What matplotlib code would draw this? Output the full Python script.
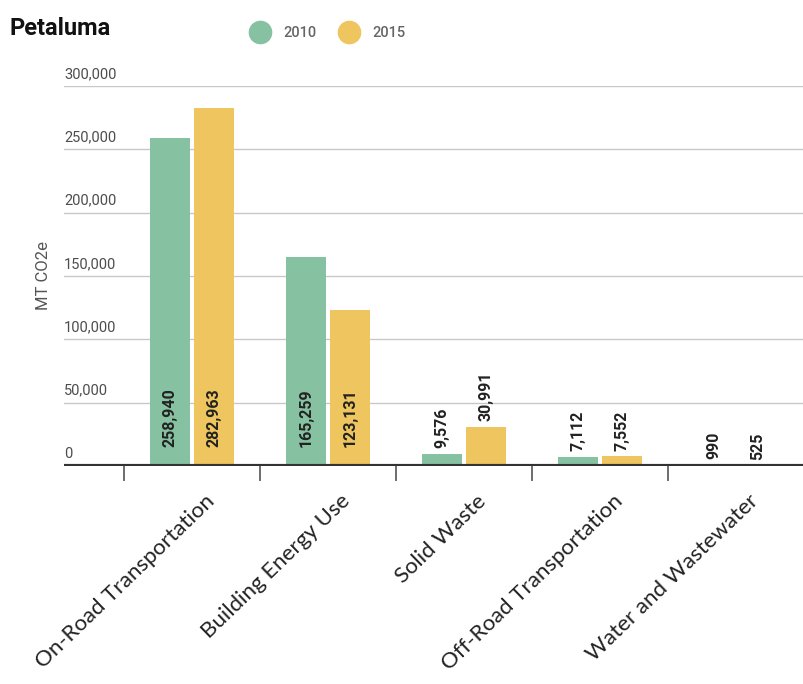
import numpy as np
import matplotlib.pyplot as plt
from matplotlib.lines import Line2D
from matplotlib.ticker import FixedLocator

# Emissions by sector, metric tons CO2e
sectors = ['On-Road Transportation', 'Building Energy Use', 'Solid Waste',
           'Off-Road Transportation', 'Water and Wastewater']
years = ['2010', '2015']
values_2010 = [258940, 165259, 9576, 7112, 990]
values_2015 = [282963, 123131, 30991, 7552, 525]
y_ticks = [0, 50000, 100000, 150000, 200000, 250000, 300000]

green = '#86c1a2'
yellow = '#eec55e'

fig = plt.figure(figsize=(8.04, 6.84), dpi=100)
ax = fig.add_axes([0.0796, 0.3187, 0.9204, 0.5556])

x = np.arange(len(sectors))
w = 0.294
off = 0.162
bars_a = ax.bar(x - off, values_2010, w, color=green, zorder=2)
bars_b = ax.bar(x + off, values_2015, w, color=yellow, zorder=2)

ax.set_xlim(-0.94, 4.5)
ax.set_ylim(0, 300000)

# value labels: inside the bar near the base if it is tall, otherwise above it
for bars in (bars_a, bars_b):
    for b in bars:
        v = b.get_height()
        cx = b.get_x() + b.get_width() / 2
        if v > 60000:
            xy, dy = (cx, 0), 14
        else:
            xy, dy = (cx, v), 4
        ax.annotate(f'{v:,.0f}', xy, xytext=(0, dy), textcoords='offset points',
                    rotation=90, ha='center', va='bottom', fontsize=11.5,
                    family='Roboto', weight='bold', color='#222222')

# gridlines and y labels sitting above them
for t in y_ticks[1:]:
    ax.axhline(t, color='#c8c8c8', lw=1, zorder=1)
for t in y_ticks:
    ax.text(-0.94, t + 4000, f'{t:,}', ha='left', va='bottom', fontsize=10.5,
            family='Roboto', color='#4d4d4d')
ax.axhline(0, color='#333333', lw=3, zorder=3)

for s in ax.spines.values():
    s.set_visible(False)
ax.set_yticks([])

# separators between categories
ax.xaxis.set_major_locator(FixedLocator(x))
ax.xaxis.set_minor_locator(FixedLocator(np.arange(-0.5, 4.0, 1.0)))
ax.tick_params(axis='x', which='major', length=0, labelbottom=False)
ax.tick_params(axis='x', which='minor', length=11, width=1.2, color='#555555')

for i, name in enumerate(sectors):
    ax.annotate(name, (i, 0), xytext=(9, -18), textcoords='offset points',
                rotation=44, rotation_mode='anchor', ha='right', va='top',
                fontsize=16, family='Lato', color='#222222')

ax.set_ylabel('MT CO2e', fontsize=12, family='Roboto', color='#555555')
ax.yaxis.set_label_coords(-0.018, 0.5)

fig.text(0.012, 0.958, 'Petaluma', fontsize=17, weight='bold', family='Roboto',
         color='#111111', va='center')

handles = [Line2D([], [], marker='o', ls='', markersize=16, color=c) for c in (green, yellow)]
fig.legend(handles, years, loc='center', bbox_to_anchor=(0.405, 0.952), ncol=2,
           frameon=False, handletextpad=0.6, columnspacing=1.2,
           prop={'family': 'Roboto', 'size': 10.5, 'weight': 'medium'},
           labelcolor='#666666')

fig.savefig('out.png', dpi=100)
